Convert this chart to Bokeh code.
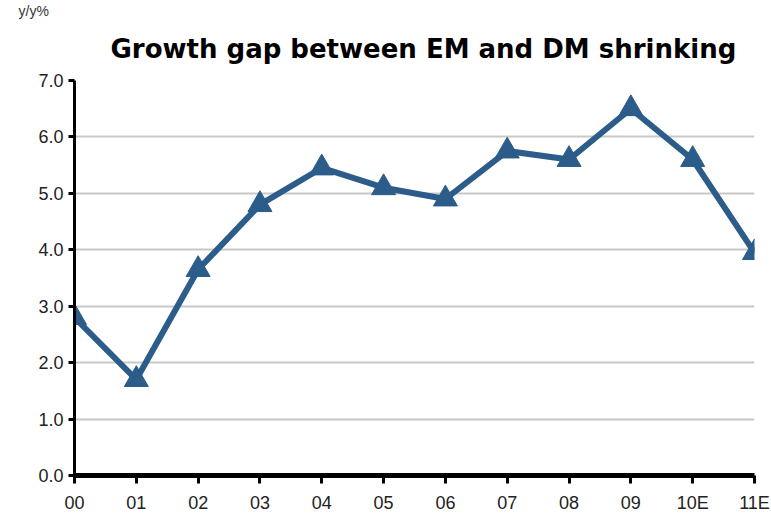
from bokeh.plotting import figure
from bokeh.models import Range1d, FixedTicker, Title, ColumnDataSource
from bokeh.embed import file_html
from bokeh.resources import INLINE

years = ["00", "01", "02", "03", "04", "05", "06", "07", "08", "09", "10E", "11E"]
gap = [2.8, 1.7, 3.65, 4.8, 5.45, 5.1, 4.9, 5.75, 5.6, 6.5, 5.6, 3.95]
y_ticks = [0, 1, 2, 3, 4, 5, 6, 7]

xs = list(range(len(years)))
src = ColumnDataSource(dict(x=xs, y=gap))

label_font = "Liberation Sans"

p = figure(width=771, height=526, output_backend="svg", toolbar_location=None,
           x_range=Range1d(0, len(years) - 1), y_range=Range1d(0, 7),
           title="y/y%")
p.min_border_left = 74
p.min_border_right = 17
p.min_border_top = 0
p.min_border_bottom = 51
p.outline_line_color = None
p.background_fill_color = "white"

# small unit label (outermost title row)
p.title.text_font = label_font
p.title.text_font_style = "normal"
p.title.text_font_size = "14px"
p.title.text_color = "#333333"
p.title.align = "left"
p.title.offset = -56
p.title.standoff = 0

# main title (row next to the plot frame)
p.add_layout(Title(text="Growth gap between EM and DM shrinking",
                   text_font="DejaVu Sans", text_font_style="bold",
                   text_font_size="26px", text_color="black",
                   align="left", vertical_align="top",
                   offset=36, standoff=30), "above")

p.xgrid.grid_line_color = None
p.ygrid.ticker = FixedTicker(ticks=y_ticks[1:])
p.ygrid.grid_line_color = "#c8c8c8"
p.ygrid.grid_line_width = 2

p.xaxis.ticker = FixedTicker(ticks=xs)
p.xaxis.major_label_overrides = {i: t for i, t in enumerate(years)}
p.xaxis.axis_line_width = 5
p.xaxis.axis_line_color = "black"
p.xaxis.major_tick_line_width = 3
p.xaxis.major_tick_line_color = "black"
p.xaxis.major_tick_out = 8
p.xaxis.major_tick_in = 0
p.xaxis.minor_tick_line_color = None
p.xaxis.major_label_text_font = label_font
p.xaxis.major_label_text_font_size = "18px"
p.xaxis.major_label_text_color = "#222222"
p.xaxis.major_label_standoff = 9

p.yaxis.ticker = FixedTicker(ticks=y_ticks)
p.yaxis.major_label_overrides = {v: f"{v:.1f}" for v in y_ticks}
p.yaxis.axis_line_width = 3
p.yaxis.axis_line_color = "black"
p.yaxis.major_tick_line_width = 3
p.yaxis.major_tick_line_color = "black"
p.yaxis.major_tick_out = 6
p.yaxis.major_tick_in = 0
p.yaxis.minor_tick_line_color = None
p.yaxis.major_label_text_font = label_font
p.yaxis.major_label_text_font_size = "18px"
p.yaxis.major_label_text_color = "#222222"
p.yaxis.major_label_standoff = 5

col = "#2b5c8a"
p.line("x", "y", source=src, line_color=col, line_width=6)
p.scatter("x", "y", source=src, marker="triangle", size=24, fill_color=col, line_color=col)

open("out.html", "w").write(file_html(p, INLINE))
